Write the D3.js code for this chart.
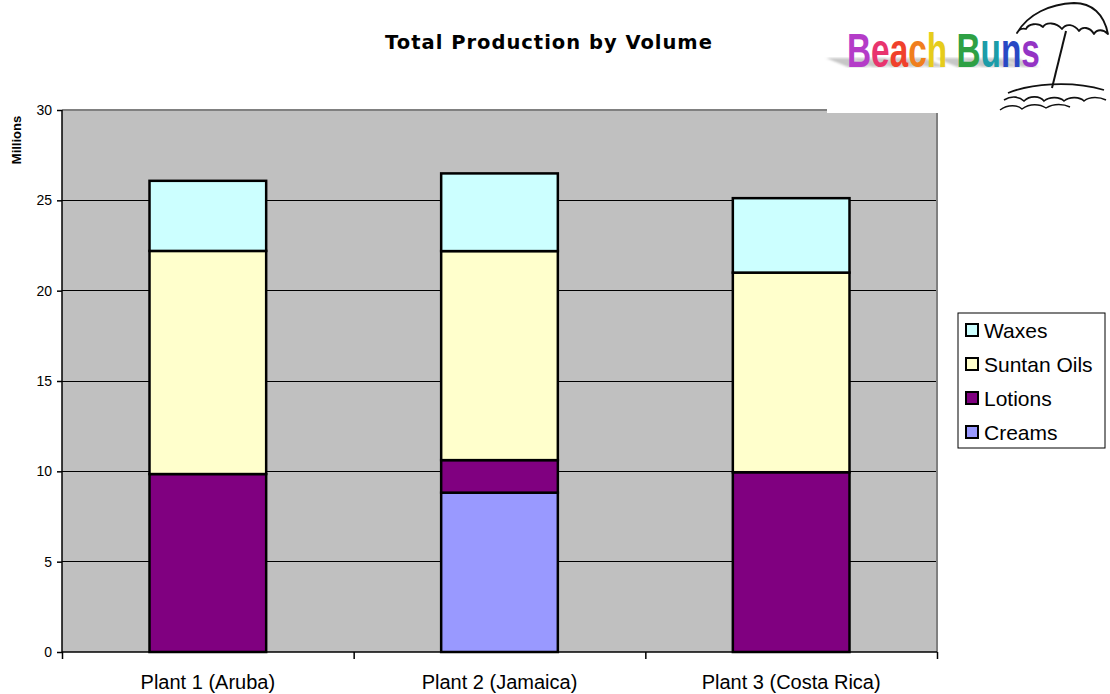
<!DOCTYPE html>
<html>
<head>
<meta charset="utf-8">
<script src="https://cdn.jsdelivr.net/npm/d3@7"></script>
<style>
  html, body { margin: 0; padding: 0; background: #fff; }
  svg { display: block; }
</style>
</head>
<body>
<svg id="chart" width="1110" height="694"></svg>
<script>
// Production per plant, in millions of units
const plants = ["Plant 1 (Aruba)", "Plant 2 (Jamaica)", "Plant 3 (Costa Rica)"];
const products = ["Creams", "Lotions", "Suntan Oils", "Waxes"]; // stacked bottom to top
const creams    = [0,    8.82, 0];
const lotions   = [9.85, 1.80, 9.95];
const suntanOils= [12.35, 11.57, 11.05];
const waxes     = [3.88, 4.30, 4.12];
const yTicks = [0, 5, 10, 15, 20, 25, 30];
const colors = ["#9999FF", "#800080", "#FFFFCC", "#CCFFFF"];

const rows = plants.map((p, i) => ({
  plant: p,
  "Creams": creams[i],
  "Lotions": lotions[i],
  "Suntan Oils": suntanOils[i],
  "Waxes": waxes[i]
}));

const svg = d3.select("#chart");
const plotLeft = 62, plotRight = 937, plotTop = 110, plotBottom = 652;
const font = "'Liberation Sans', Arial, sans-serif";

const x = d3.scaleBand().domain(plants).range([plotLeft, plotRight]).paddingInner(0.6).paddingOuter(0.3);
const xEdge = d3.scaleLinear().domain([0, plants.length]).range([plotLeft, plotRight]);
const y = d3.scaleLinear().domain([0, 30]).range([plotBottom, plotTop]);
const color = d3.scaleOrdinal().domain(products).range(colors);

// plot area
svg.append("rect")
  .attr("x", plotLeft).attr("y", plotTop)
  .attr("width", plotRight - plotLeft).attr("height", plotBottom - plotTop)
  .attr("fill", "#C0C0C0");

// gridlines
svg.append("g").selectAll("line")
  .data(yTicks.filter(t => t > 0 && t < 30))
  .join("line")
  .attr("x1", plotLeft).attr("x2", plotRight)
  .attr("y1", d => y(d)).attr("y2", d => y(d))
  .attr("stroke", "#000").attr("stroke-width", 1)
  .attr("shape-rendering", "crispEdges");

// plot frame (top and right)
svg.append("path")
  .attr("d", `M${plotLeft},${y(30)}H${plotRight}V${plotBottom}`)
  .attr("fill", "none").attr("stroke", "#808080").attr("stroke-width", 2);

// stacked bars
const series = d3.stack().keys(products)(rows);
svg.append("g").selectAll("g")
  .data(series)
  .join("g")
  .attr("fill", d => color(d.key))
  .selectAll("rect")
  .data(d => d.filter(s => s[1] - s[0] > 0))
  .join("rect")
  .attr("x", d => x(d.data.plant))
  .attr("width", x.bandwidth())
  .attr("y", d => y(d[1]))
  .attr("height", d => y(d[0]) - y(d[1]))
  .attr("stroke", "#000").attr("stroke-width", 2.5);

// y axis
const yAxis = svg.append("g")
  .attr("transform", `translate(${plotLeft},0)`)
  .call(d3.axisLeft(y).tickValues(yTicks).tickSize(5).tickPadding(5).tickFormat(d3.format("d")));
yAxis.select(".domain").attr("stroke", "#000").attr("stroke-width", 1.5).attr("d", `M0,${plotTop}V${plotBottom}`);
yAxis.selectAll(".tick line").attr("stroke", "#000").attr("stroke-width", 1.5);
yAxis.selectAll("text").attr("font-family", font).attr("font-size", 14).attr("fill", "#000");

// x axis: boundary ticks
const xAxis = svg.append("g")
  .attr("transform", `translate(0,${plotBottom})`)
  .call(d3.axisBottom(xEdge).tickValues(d3.range(plants.length + 1)).tickSize(7).tickFormat(""));
xAxis.select(".domain").attr("stroke", "#000").attr("stroke-width", 1.5).attr("d", `M${plotLeft},0H${plotRight}`);
xAxis.selectAll(".tick line").attr("stroke", "#000").attr("stroke-width", 1.5);

// x category labels
const xLabels = svg.append("g")
  .attr("transform", `translate(0,${plotBottom})`)
  .call(d3.axisBottom(x).tickSize(0).tickPadding(23));
xLabels.select(".domain").remove();
xLabels.selectAll("text").attr("font-family", font).attr("font-size", 20).attr("fill", "#000");

// y axis title
svg.append("text")
  .attr("transform", "translate(21,140) rotate(-90)")
  .attr("text-anchor", "middle")
  .attr("font-family", font).attr("font-weight", "bold").attr("font-size", 13)
  .text("Millions");

// chart title
svg.append("text")
  .attr("x", 549).attr("y", 49)
  .attr("text-anchor", "middle")
  .attr("font-family", "'DejaVu Sans', Verdana, sans-serif").attr("font-weight", "bold")
  .attr("font-size", 19.5).attr("letter-spacing", 1)
  .text("Total Production by Volume");

// legend
const legendItems = products.slice().reverse();
const legend = svg.append("g");
legend.append("rect")
  .attr("x", 958).attr("y", 313).attr("width", 147).attr("height", 135)
  .attr("fill", "#fff").attr("stroke", "#000").attr("stroke-width", 1);
const li = legend.selectAll("g.item")
  .data(legendItems)
  .join("g").attr("class", "item")
  .attr("transform", (d, i) => `translate(966,${330 + i * 34})`);
li.append("rect")
  .attr("x", 0).attr("y", -6).attr("width", 12).attr("height", 12)
  .attr("fill", d => color(d)).attr("stroke", "#000").attr("stroke-width", 2);
li.append("text")
  .attr("x", 18).attr("y", 0).attr("dy", "0.36em")
  .attr("font-family", font).attr("font-size", 21)
  .text(d => d);

// Beach Buns logo
const logo = svg.append("g");
logo.append("rect").attr("x", 827).attr("y", 0).attr("width", 283).attr("height", 113).attr("fill", "#fff");

const defs = svg.append("defs");
defs.append("filter").attr("id", "soft")
  .append("feGaussianBlur").attr("stdDeviation", 0.8);

const logoWord = "Beach Buns";
const letterColors = ["#B43CC8", "#E8346E", "#F0402C", "#F07E1E", "#E6CC1C",
                      "#FFFFFF", "#2EA044", "#1C9CA8", "#2848C4", "#9434C4"];
const logoX = 847, logoBase = 67, logoWidth = 193;
const shadowLayer = logo.append("g").attr("filter", "url(#soft)");
const wordGroup = logo.append("g");
const word = wordGroup.append("text")
  .attr("x", 0).attr("y", 0)
  .attr("font-family", "'Liberation Sans Narrow', 'Liberation Sans', Arial, sans-serif")
  .attr("font-weight", "bold").attr("font-size", 48)
  .attr("xml:space", "preserve")
  .attr("fill", "url(#rainbow)")
  .text(logoWord);

// condense the word horizontally to the logo width
const wNode = word.node();
const naturalWidth = wNode.getComputedTextLength();
const sx = logoWidth / naturalWidth;
wordGroup.attr("transform", `translate(${logoX},${logoBase}) scale(${sx},1)`);

// one colour per letter: hard-stop gradient across the word
const boxes = d3.range(logoWord.length).map(i => wNode.getExtentOfChar(i));
const gx0 = boxes[0].x, gx1 = boxes[boxes.length - 1].x + boxes[boxes.length - 1].width;
const grad = defs.append("linearGradient").attr("id", "rainbow")
  .attr("gradientUnits", "userSpaceOnUse")
  .attr("x1", gx0).attr("x2", gx1).attr("y1", 0).attr("y2", 0);
boxes.forEach((b, i) => {
  const a = (b.x - gx0) / (gx1 - gx0), e = (b.x + b.width - gx0) / (gx1 - gx0);
  grad.append("stop").attr("offset", Math.max(0, a)).attr("stop-color", letterColors[i]);
  grad.append("stop").attr("offset", Math.min(1, e)).attr("stop-color", letterColors[i]);
});

// cast shadow of each letter, laid back towards the upper left
boxes.forEach((b, i) => {
  if (logoWord[i] === " ") return;
  const x0 = logoX + sx * b.x + 1, x1 = logoX + sx * (b.x + b.width) - 1;
  shadowLayer.append("path")
    .attr("d", `M${x0},${logoBase}L${x1},${logoBase}L${x1 - 22},${logoBase - 9}L${x0 - 22},${logoBase - 9}Z`)
    .attr("fill", "#B4B4B4").attr("opacity", 0.75);
});

// umbrella canopy
logo.append("path")
  .attr("d", "M1017,33 C1028,14 1050,4 1074,3 C1092,3 1104,14 1108,34 " +
             "C1103,29 1097,29 1094,34 C1090,27 1082,26 1079,31 C1074,24 1066,23 1062,29 " +
             "C1056,22 1046,22 1043,27 C1038,22 1028,24 1026,29 C1023,28 1019,29 1017,33 Z")
  .attr("fill", "none").attr("stroke", "#111").attr("stroke-width", 1.8).attr("stroke-linejoin", "round");
// pole
logo.append("path")
  .attr("d", "M1066,31 L1052,88")
  .attr("stroke", "#111").attr("stroke-width", 2);
// island and waves
logo.append("path")
  .attr("d", "M1008,93 C1030,84 1070,80 1104,90")
  .attr("fill", "none").attr("stroke", "#111").attr("stroke-width", 1.8);
logo.append("path")
  .attr("d", "M1004,100 C1012,95 1020,97 1024,101 C1030,95 1040,96 1044,101 C1050,96 1060,97 1064,101 " +
             "C1070,96 1080,97 1084,101 C1090,96 1100,97 1106,100")
  .attr("fill", "none").attr("stroke", "#111").attr("stroke-width", 1.6);
logo.append("path")
  .attr("d", "M1000,110 C1008,104 1018,105 1022,109 C1030,103 1040,104 1046,108 C1054,103 1064,104 1070,107")
  .attr("fill", "none").attr("stroke", "#111").attr("stroke-width", 1.4);
</script>
</body>
</html>
